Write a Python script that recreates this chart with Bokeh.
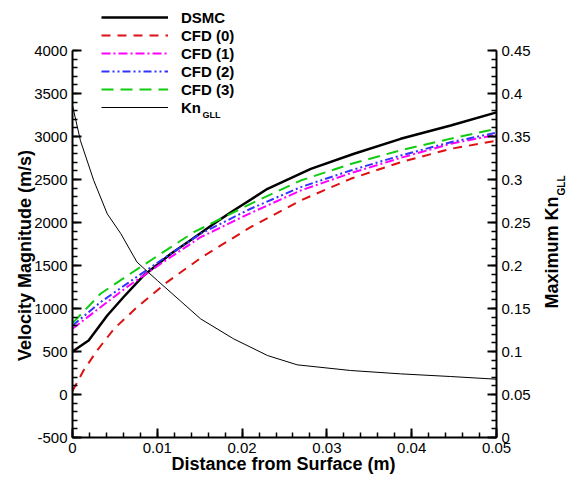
import math
from bokeh.plotting import figure
from bokeh.models import (Range1d, LinearAxis, SingleIntervalTicker, CustomJSTickFormatter,
                          Legend, LegendItem, Label)
from bokeh.embed import file_html
from bokeh.resources import INLINE

# ---- data ----
x_dsmc = [0, 0.0019, 0.0041, 0.006, 0.0084, 0.0116, 0.014, 0.0165, 0.019, 0.023, 0.0281, 0.0332, 0.0387, 0.0446, 0.05]
v_dsmc = [500, 628, 919, 1131, 1384, 1636, 1800, 1975, 2140, 2392, 2624, 2799, 2973, 3128, 3280]

x_cfd0 = [0, 0.0013, 0.0029, 0.0049, 0.0076, 0.0112, 0.0153, 0.021, 0.0269, 0.0328, 0.0387, 0.0446, 0.05]
v_cfd0 = [40, 279, 512, 764, 1015, 1310, 1600, 1946, 2256, 2508, 2701, 2857, 2950]

x_cfd1 = [0, 0.0033, 0.0064, 0.0104, 0.0151, 0.021, 0.0269, 0.0328, 0.0387, 0.0446, 0.05]
v_cfd1 = [765, 1015, 1248, 1520, 1829, 2110, 2372, 2573, 2752, 2915, 3020]

x_cfd2 = [0, 0.0033, 0.0064, 0.0104, 0.0151, 0.021, 0.0269, 0.0328, 0.0387, 0.0446, 0.05]
v_cfd2 = [800, 1073, 1287, 1558, 1869, 2160, 2411, 2605, 2779, 2934, 3045]

x_cfd3 = [0, 0.0033, 0.0065, 0.0104, 0.0143, 0.021, 0.0269, 0.0328, 0.0387, 0.0446, 0.05]
v_cfd3 = [830, 1171, 1384, 1636, 1887, 2217, 2488, 2680, 2840, 2975, 3090]

x_kn = [0, 0.00094, 0.0025, 0.0041, 0.0057, 0.0076, 0.01, 0.0127, 0.0151, 0.019, 0.023, 0.0265, 0.0328, 0.0387, 0.0446, 0.05]
kn = [0.386, 0.345, 0.299, 0.260, 0.237, 0.204, 0.1826, 0.159, 0.138, 0.1147, 0.0953, 0.0845, 0.0779, 0.0740, 0.0709, 0.0678]

x_lim = (0, 0.05)
v_lim = (-500, 4000)
kn_lim = (0, 0.45)

FONT = "Liberation Sans"
W, H = 574, 477
# axes box inside the canvas (pixels)
L, R, T, B = 72, 496, 50, 437


def extend(lo, hi, px_lo, px_hi, total, flip=False):
    per = (hi - lo) / (px_hi - px_lo)
    if flip:  # vertical: px measured from top
        return Range1d(lo - (total - px_hi) * per, hi + px_lo * per)
    return Range1d(lo - px_lo * per, hi + (total - px_hi) * per)


p = figure(width=W, height=H,
           x_range=extend(*x_lim, L, R, W),
           y_range=extend(*v_lim, T, B, H, flip=True),
           output_backend="svg", toolbar_location=None,
           min_border=0, min_border_left=0, min_border_right=0,
           min_border_top=0, min_border_bottom=0)
p.extra_y_ranges = {"kn": extend(*kn_lim, T, B, H, flip=True)}
p.xgrid.visible = False
p.ygrid.visible = False
p.outline_line_color = None
p.background_fill_color = "white"
p.border_fill_color = "white"

fmt_code = "return String(Math.round(tick*10000)/10000)"

rax = LinearAxis(y_range_name="kn")
p.add_layout(rax, "right")


def style_axis(ax, interval, bounds, loc):
    ax.fixed_location = loc
    ax.bounds = bounds
    ax.ticker = SingleIntervalTicker(interval=interval, num_minor_ticks=5)
    ax.formatter = CustomJSTickFormatter(code=fmt_code)
    ax.axis_line_width = 2
    ax.axis_line_color = "black"
    ax.major_tick_in = 9
    ax.major_tick_out = 0
    ax.minor_tick_in = 5
    ax.minor_tick_out = 0
    ax.major_tick_line_width = 2
    ax.minor_tick_line_width = 1.5
    ax.major_tick_line_color = "black"
    ax.minor_tick_line_color = "black"
    ax.major_label_text_font = FONT
    ax.major_label_text_font_size = "15px"
    ax.major_label_text_color = "black"
    ax.major_label_standoff = 5


style_axis(p.xaxis[0], 0.01, x_lim, v_lim[0])
style_axis(p.yaxis[0], 500, v_lim, x_lim[0])
style_axis(rax, 0.05, kn_lim, x_lim[1])

r_dsmc = p.line(x_dsmc, v_dsmc, line_color="black", line_width=2.5)
r0 = p.line(x_cfd0, v_cfd0, line_color="#dd1111", line_width=2, line_dash="9 7")
r1 = p.line(x_cfd1, v_cfd1, line_color="#ff00ff", line_width=2, line_dash="9 3 2 3")
r2 = p.line(x_cfd2, v_cfd2, line_color="#3333ff", line_width=2, line_dash="8 3 2 3 2 3")
r3 = p.line(x_cfd3, v_cfd3, line_color="#11cc11", line_width=2, line_dash="12 7")
rk = p.line(x_kn, kn, line_color="black", line_width=1, y_range_name="kn")

legend = Legend(items=[
    LegendItem(label="DSMC", renderers=[r_dsmc]),
    LegendItem(label="CFD (0)", renderers=[r0]),
    LegendItem(label="CFD (1)", renderers=[r1]),
    LegendItem(label="CFD (2)", renderers=[r2]),
    LegendItem(label="CFD (3)", renderers=[r3]),
    LegendItem(label="Kn", renderers=[rk]),
], location=(101, H - 116))
legend.padding = 0
legend.margin = 0
legend.spacing = 0
legend.glyph_width = 67
legend.glyph_height = 18
legend.label_height = 18
legend.label_standoff = 13
legend.border_line_color = None
legend.background_fill_alpha = 0
legend.label_text_font = FONT
legend.label_text_font_size = "15px"
legend.label_text_font_style = "bold"
legend.label_text_color = "black"
p.add_layout(legend, "center")


def label(text, cx, cy, size, align="center", angle=0.0):
    p.add_layout(Label(x=cx, y=H - cy, x_units="screen", y_units="screen", text=text,
                       angle=angle, text_font=FONT, text_font_size=size, text_font_style="bold",
                       text_align=align, text_baseline="middle", text_color="black"))


# legend subscript
label("GLL", 202, 114, "9px", align="left")
# axis titles
label("Velocity Magnitude (m/s)", 24, 255, "18px", angle=math.pi / 2)
label("Distance from Surface (m)", 283, 463, "18px")
label("Maximum Kn", 551, 308, "18px", align="left", angle=math.pi / 2)
label("GLL", 561, 195, "10px", align="left", angle=math.pi / 2)

open("out.html", "w").write(file_html(p, INLINE))
